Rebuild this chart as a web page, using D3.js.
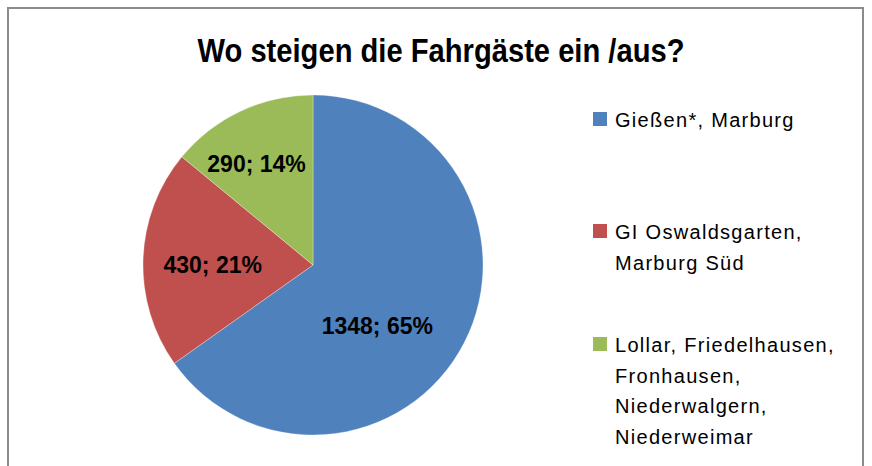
<!DOCTYPE html>
<html>
<head>
<meta charset="utf-8">
<script src="https://cdn.jsdelivr.net/npm/d3@7"></script>
<style>
  html, body { margin: 0; padding: 0; background: #fff; }
  svg { display: block; }
  text { font-family: "Liberation Sans Narrow", "Arial Narrow", "Liberation Sans", Arial, sans-serif; }
</style>
</head>
<body>
<svg id="chart"></svg>
<script>
// data
const title = 'Wo steigen die Fahrgäste ein /aus?';
const categories = [
  ['Gießen*, Marburg'],
  ['GI Oswaldsgarten,', 'Marburg Süd'],
  ['Lollar, Friedelhausen,', 'Fronhausen,', 'Niederwalgern,', 'Niederweimar']
];
const values = [1348, 430, 290];
const percents = ['65%', '21%', '14%'];
const colors = ['#4F81BD', '#C0504D', '#9BBB59'];

(function () {
  const width = 872;
  const height = 466;
  const svg = d3.select('#chart').attr('width', width).attr('height', height);

  // frame (bottom edge is cut off in the original)
  svg.append('path')
    .attr('d', `M8,${height} V8 H863 V${height}`)
    .attr('fill', 'none')
    .attr('stroke', '#8c8c8c')
    .attr('stroke-width', 2);

  // title, squeezed a bit like the narrow original font
  const titleEl = svg.append('text')
    .attr('x', 441)
    .attr('y', 62)
    .attr('text-anchor', 'middle')
    .attr('font-size', 33)
    .attr('font-weight', 'bold')
    .attr('fill', '#000')
    .text(title);
  const tw = titleEl.node().getComputedTextLength();
  if (tw > 487) {
    titleEl.attr('textLength', 487).attr('lengthAdjust', 'spacingAndGlyphs');
  }

  const cx = 313;
  const cy = 265;
  const radius = 170;

  const pie = d3.pie().sort(null).value((d) => d);
  const arcs = pie(values);
  const arc = d3.arc().innerRadius(0).outerRadius(radius);

  const g = svg.append('g').attr('transform', `translate(${cx},${cy})`);
  g.selectAll('path')
    .data(arcs)
    .join('path')
    .attr('d', arc)
    .attr('fill', (d, i) => colors[i])
    .attr('stroke', '#ffffff')
    .attr('stroke-opacity', 0.5)
    .attr('stroke-width', 0.6);

  // label placement like Excel's "best fit" (radius fraction, angle shift in degrees)
  const labelPlace = [
    { r: 0.52, shift: 16 },
    { r: 0.59, shift: -2 },
    { r: 0.68, shift: -4 }
  ];

  g.selectAll('text.val')
    .data(arcs)
    .join('text')
    .attr('class', 'val')
    .attr('text-anchor', 'middle')
    .attr('dy', '0.35em')
    .attr('font-size', 23)
    .attr('font-weight', 'bold')
    .attr('fill', '#000')
    .attr('transform', (d, i) => {
      const a = (d.startAngle + d.endAngle) / 2 + (labelPlace[i].shift * Math.PI) / 180;
      const rr = radius * labelPlace[i].r;
      return `translate(${rr * Math.sin(a)},${-rr * Math.cos(a)})`;
    })
    .text((d, i) => `${values[i]}; ${percents[i]}`);

  // legend
  const legendX = 593;
  const lineH = 30.5;
  const legendY = [127, 239, 352];
  const legend = svg.append('g');
  categories.forEach((lines, i) => {
    legend.append('rect')
      .attr('x', legendX)
      .attr('y', legendY[i] - 15)
      .attr('width', 14)
      .attr('height', 14)
      .attr('fill', colors[i]);
    const t = legend.append('text')
      .attr('x', legendX + 22)
      .attr('y', legendY[i])
      .attr('font-size', 20)
      .attr('letter-spacing', 1.3)
      .attr('fill', '#000');
    lines.forEach((line, j) => {
      t.append('tspan')
        .attr('x', legendX + 22)
        .attr('dy', j === 0 ? 0 : lineH)
        .text(line);
    });
  });
})();
</script>
</body>
</html>
